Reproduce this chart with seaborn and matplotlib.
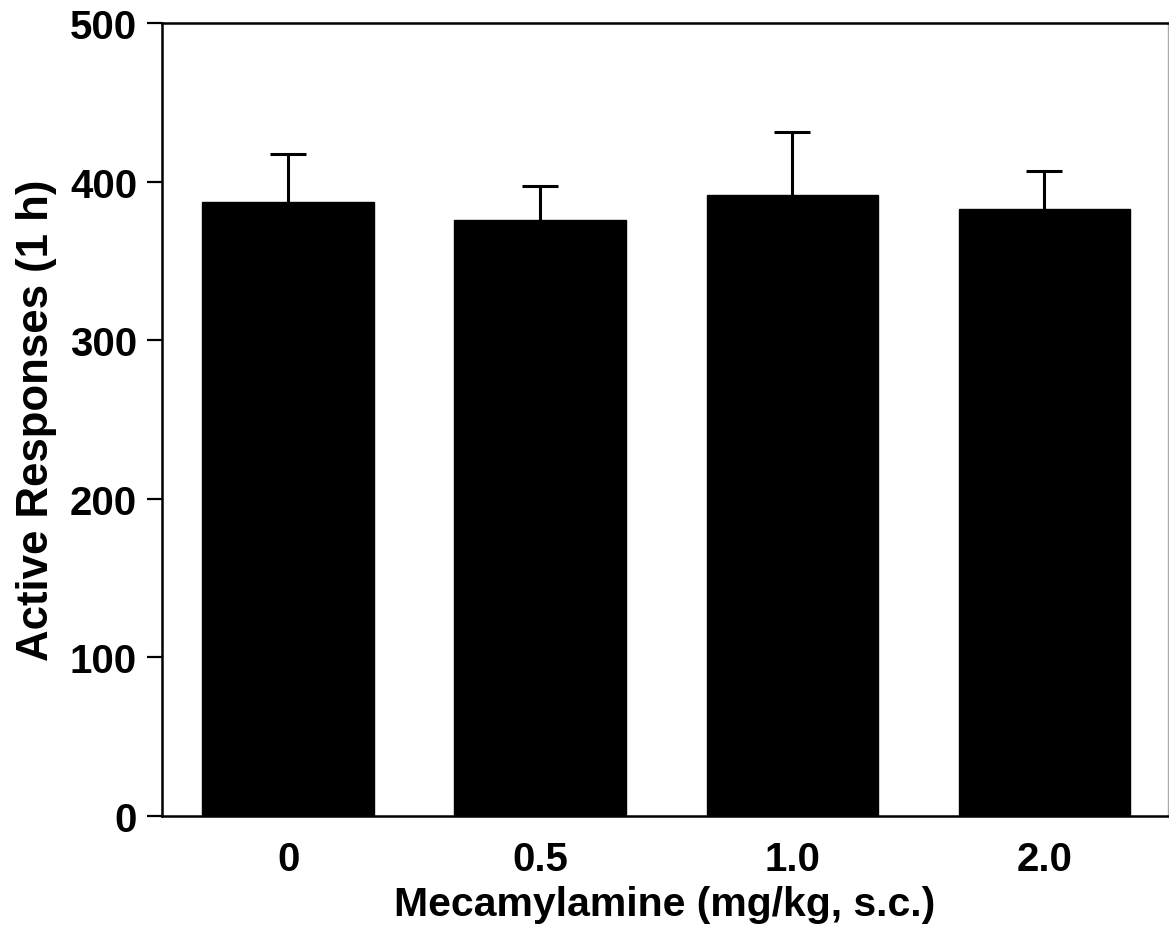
import matplotlib
matplotlib.use("Agg")
import matplotlib.pyplot as plt
import seaborn as sns
import pandas as pd

doses = ["0", "0.5", "1.0", "2.0"]
means = [387, 376, 391.5, 382.5]
sems = [30.5, 21.5, 39.5, 24]

sns.set_theme(style="white")
plt.rcParams['font.family'] = ['Liberation Sans', 'DejaVu Sans']
plt.rcParams['font.weight'] = 'bold'
plt.rcParams['text.color'] = 'black'
plt.rcParams['axes.labelcolor'] = 'black'
plt.rcParams['xtick.color'] = 'black'
plt.rcParams['ytick.color'] = 'black'

fig = plt.figure(figsize=(11.69, 9.29), dpi=100)
ax = fig.add_axes([0.1386, 0.1206, 0.8605, 0.8535])

df = pd.DataFrame({"dose": doses, "mean": means})
sns.barplot(data=df, x="dose", y="mean", color="black", width=0.68,
            saturation=1, ax=ax, errorbar=None, zorder=2)
for p in ax.patches:
    p.set_facecolor("black")
    p.set_edgecolor("black")

eb = ax.errorbar(range(len(doses)), means, yerr=[[0]*len(sems), sems], fmt="none",
                 ecolor="black", elinewidth=2.2, capsize=13, capthick=2.2, zorder=1)
caplines = eb[1]
if len(caplines) == 2:
    caplines[0].set_visible(False)

ax.set_ylim(0, 500)
ax.set_xlim(-0.5, 3.49)
ax.set_yticks([0, 100, 200, 300, 400, 500])
ax.tick_params(axis="y", left=True, length=11, width=1.6, pad=7, labelsize=29, color="black", labelcolor="black")
ax.tick_params(axis="x", bottom=False, length=0, pad=17, labelsize=29, labelcolor="black")
for lab in ax.get_xticklabels() + ax.get_yticklabels():
    lab.set_fontweight("bold")

for s in ["left", "bottom", "top"]:
    ax.spines[s].set_color("black")
    ax.spines[s].set_linewidth(1.8)
ax.spines["right"].set_color("#aaaaaa")
ax.spines["right"].set_linewidth(1.0)

ax.set_xlabel("Mecamylamine (mg/kg, s.c.)", fontsize=29.5, fontweight="bold", labelpad=5, color="black")
ax.set_ylabel("Active Responses (1 h)", fontsize=31.5, fontweight="bold", labelpad=9, color="black")

fig.savefig("out.png", dpi=100, facecolor="white")
